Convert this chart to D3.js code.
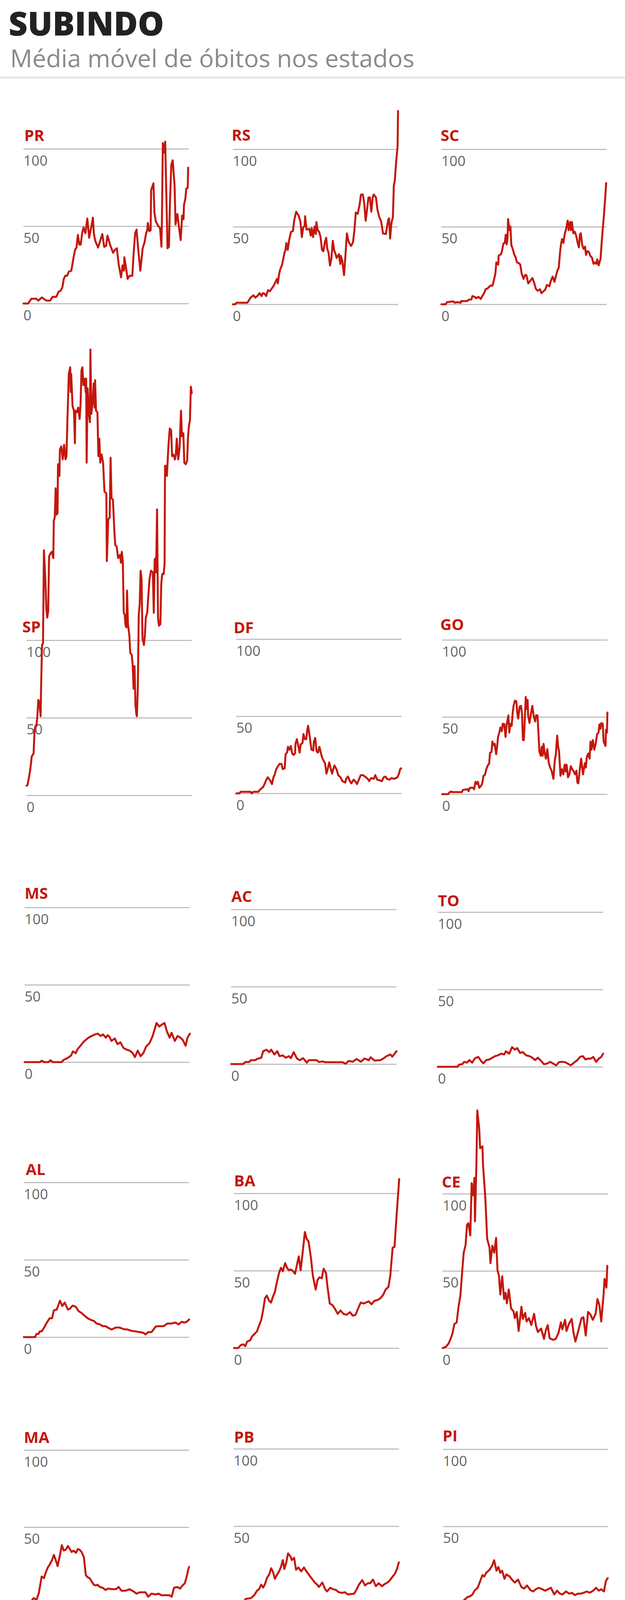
<!DOCTYPE html>
<html>
<head>
<meta charset="utf-8">
<script src="https://cdn.jsdelivr.net/npm/d3@7"></script>
<style>
  body { margin: 0; background: #fff; }
  svg { display: block; }
</style>
</head>
<body>
<svg id="chart"></svg>
<script>
// moving average of deaths per state, [day since start, value]
const PR = [[0,0],[10,0],[13,1.4],[17,3.1],[27,3.1],[32,1.9],[36,3.1],[39,3.9],[44,2.9],[49,1.9],[57,1.9],[62,4.3],[70,4.3],[75,7.7],[79,8.2],[83,10.6],[86,15.9],[89,17.9],[93,17.9],[97,20.7],[102,21.2],[106,28.5],[110,34.7],[113,36.2],[116,44.4],[119,38.1],[122,38.1],[125,45.4],[128,49.2],[132,45.4],[136,55],[140,42.5],[145,50.2],[148,55.5],[150,45.4],[153,40.5],[159,36.2],[162,39.1],[168,44.9],[172,36.7],[176,37.2],[179,43.9],[185,37.6],[191,32.8],[195,34.7],[199,35.7],[203,25.1],[208,16.9],[211,24.6],[214,21.2],[215,29.9],[218,24.1],[222,15.9],[226,17.9],[232,17.9],[235,33.8],[238,45.4],[241,47.8],[244,36.7],[249,21.2],[254,35.7],[258,39.6],[261,44.9],[264,47.8],[265,52.1],[268,46.8],[271,47.3],[272,73.3],[277,77.7],[279,58.9],[282,53.1],[287,50.2],[291,48.7],[294,36.7],[295,53.1],[297,103.7],[300,97.5],[302,104.7],[304,76.2],[307,35.7],[310,36.7],[312,63.7],[315,89.7],[318,92.6],[322,76.2],[324,51.1],[328,57.9],[331,50.2],[335,41],[338,56.9],[341,54.5],[342,63.7],[345,68],[347,74.3],[350,74.8],[351,87.8]];
const RS = [[0,0],[5,0],[8,1],[31,1],[35,2.9],[38,4.3],[44,5.8],[48,4.3],[52,5.3],[57,7.2],[61,5.3],[64,7.2],[68,6.7],[71,5.3],[75,9.1],[79,8.4],[84,10.6],[88,12.5],[94,16.4],[96,13.5],[98,18.3],[101,22.6],[105,25.5],[110,33.2],[112,34.7],[114,39.5],[117,35.1],[120,41.4],[124,46.7],[128,47.2],[131,54.4],[135,59.7],[140,57.3],[144,53.4],[147,43.3],[150,49.6],[153,50.6],[154,56.8],[157,48.2],[163,48.6],[166,44.3],[168,49.1],[171,43.3],[174,50.1],[177,45.3],[178,53],[181,47.7],[184,46.7],[187,43.3],[190,35.1],[193,34.2],[196,40],[199,42.9],[201,36.1],[204,33.2],[207,25],[210,29.4],[213,40.9],[216,34.7],[219,32.3],[221,29.9],[226,32.3],[229,26],[230,31.3],[233,28.4],[237,18.8],[240,31.8],[243,45.7],[247,40],[252,37.6],[256,40],[259,47.7],[262,59.2],[266,58.3],[270,64],[273,70.8],[277,70.8],[280,65],[283,53.9],[286,61.2],[289,68.9],[292,68.9],[295,59.7],[298,68.9],[300,70.8],[305,68.9],[308,61.2],[312,56.3],[316,53.4],[320,45.7],[326,45.3],[331,54.4],[333,55.4],[335,42.4],[338,52.5],[341,56.3],[343,76.6],[345,79.4],[348,92],[351,101.6],[352,124.7]];
const SC = [[0,0],[9,0],[12,1.4],[26,1.9],[28,1],[34,1.4],[41,1],[42,2.1],[55,2.1],[58,2.9],[64,3.2],[66,5.3],[71,4.8],[74,3.9],[79,4.8],[84,3.4],[86,4.8],[91,7.2],[94,9.7],[98,10.1],[101,11.1],[105,12.1],[109,12.1],[112,15.9],[115,19.8],[117,27],[121,25.6],[122,31.4],[127,32.3],[129,34.3],[132,39.1],[135,39.6],[137,44.9],[139,38.6],[141,42.9],[142,55],[145,47.8],[147,50.2],[149,38.1],[152,35.7],[155,32.3],[158,30.4],[161,27],[165,26.5],[168,25.6],[171,19.8],[175,16.4],[178,18.8],[181,18.8],[185,13.5],[190,15.4],[194,16.9],[198,13.5],[201,10.1],[205,8.7],[210,9.7],[213,7.2],[217,8.2],[221,9.4],[225,12.5],[230,11.6],[233,15],[237,17.9],[241,14.5],[244,18.3],[247,21.7],[250,23.6],[253,34.3],[255,39.1],[257,42],[260,39.6],[263,45.8],[265,47.8],[269,54],[271,47.8],[274,53.1],[276,47.8],[278,53.1],[281,45.8],[284,46.8],[287,44.4],[290,40],[293,36.7],[295,44.9],[297,45.8],[300,38.1],[303,35.7],[306,37.2],[308,31.8],[311,34.3],[314,33.8],[317,31.4],[321,29.9],[324,26.1],[327,27],[330,26.1],[332,29],[335,25.1],[339,29.4],[341,38.1],[344,49.7],[346,56.5],[349,69],[351,78.2]];
const SP = [[0,6.2],[2,6.6],[5,11.5],[8,16.7],[11,25],[15,27],[17,41.7],[19,44.8],[21,44.8],[23,51],[25,61.5],[27,60.4],[30,51],[31,70.8],[33,96.9],[35,97.9],[37,158],[40,139.6],[42,120.8],[44,114.6],[46,118.7],[48,154],[51,156],[54,157],[57,153],[58,177],[60,179],[62,198],[64,181],[66,182],[67,213.5],[70,206],[71,223],[74,225],[77,216.6],[80,226],[83,216.6],[85,218.7],[87,241.6],[90,271.8],[93,276],[94,260],[95,271.8],[98,251],[101,248],[103,227],[104,248],[107,247],[110,250],[113,242.7],[115,252],[117,274],[119,276],[121,264.5],[124,268.7],[126,260],[127,268.7],[128,214.5],[130,262.5],[133,246],[135,240.6],[136,287.5],[138,246],[141,254],[143,265.6],[145,250],[146,267.7],[148,248],[151,247],[153,218.7],[155,230],[157,214.5],[160,219.8],[163,214.5],[166,195.8],[170,194.8],[171,151],[174,178],[177,179],[179,217.7],[181,191.6],[184,190.6],[187,170.8],[189,161.4],[192,160.4],[195,153],[199,155],[201,150],[203,157],[205,151],[207,117.7],[209,116.7],[211,109.4],[213,108.3],[214,132],[216,110.4],[219,103],[221,91.7],[224,90.6],[226,84.4],[228,68.7],[230,83.3],[232,58.3],[234,52],[235,51],[237,68.7],[239,116.7],[241,123],[243,144.8],[245,139.6],[247,101],[250,96.9],[252,103],[254,114.6],[257,117.7],[259,127],[262,139.6],[265,144.8],[269,143.8],[271,117.7],[273,152],[275,153],[276,143.8],[278,184.4],[280,114.6],[282,109.4],[285,110.4],[287,136.4],[289,142.7],[292,142.7],[294,149],[295,212.5],[297,212.5],[299,206],[302,224],[305,236.5],[308,235.4],[310,218.7],[313,219.8],[316,216.6],[318,219.8],[320,230],[323,216.6],[326,224],[329,248],[331,231.5],[334,233.5],[336,214.5],[339,213.5],[342,215.6],[344,231.5],[346,238.5],[348,241.6],[350,263.5],[352,259.4]];
const DF = [[0,0],[7,0],[9,1],[30,1],[33,0],[36,1],[47,1],[49,1.9],[53,3.1],[57,4.1],[60,6],[64,8.9],[67,10.4],[72,8.4],[76,6],[79,10.4],[82,12.3],[85,15.7],[88,17.2],[92,19.1],[96,19.1],[99,15.7],[103,16.2],[105,25.4],[108,26.4],[110,30.2],[113,28.3],[116,30.7],[119,25.9],[122,24.9],[125,25.9],[126,32.2],[129,35.1],[132,30.7],[135,26.4],[137,31.7],[141,32.7],[143,38.5],[146,35.1],[149,35.1],[151,40.9],[153,43.8],[156,37.5],[160,28.3],[164,27.8],[165,33.1],[168,36],[171,27.3],[174,26.4],[177,30.2],[180,26.4],[182,23.9],[186,21],[189,19.6],[192,12.8],[195,16.2],[198,20.1],[201,16.2],[204,12.8],[207,16.2],[209,18.1],[214,15.2],[217,11.8],[222,10.4],[226,7.9],[232,7],[234,9.4],[238,10.9],[242,7.9],[245,6.5],[250,8.9],[254,7.5],[257,6],[261,8.9],[265,11.8],[270,11.8],[274,10.9],[280,9.4],[283,7.9],[287,9.9],[293,9.4],[296,11.8],[300,8.9],[306,8.4],[310,7.9],[314,10.4],[318,10.9],[321,9.4],[326,8.9],[331,9.9],[336,9.4],[340,9.9],[343,10.4],[346,12.3],[349,15.7],[351,16.2]];
const GO = [[0,0],[13,0],[15,1],[19,1.7],[22,1.3],[42,1.3],[44,2.7],[54,3.2],[56,1.9],[59,4.1],[66,4.1],[68,3.2],[71,8],[74,6.6],[76,8],[79,4.1],[82,5.1],[85,6.6],[88,11.9],[91,12.4],[94,16.2],[97,18.6],[100,19.6],[102,26.8],[105,27.3],[107,34.1],[109,31.7],[112,32.6],[115,25.9],[117,30.7],[119,37],[122,40.3],[124,43.2],[127,40.8],[129,45.6],[132,45.6],[135,37],[137,44.7],[139,47.6],[141,51],[143,39.9],[145,45.6],[148,44.2],[150,51.9],[152,57.2],[155,60.6],[158,60.1],[160,52.4],[162,49],[165,56.7],[168,57.2],[170,52.4],[172,35],[174,35],[176,48.5],[178,63],[180,55.3],[182,61.1],[183,51],[186,46.1],[189,51.9],[192,57.2],[195,50.5],[198,47.1],[200,51],[203,51],[205,39.9],[207,27.8],[210,24.9],[212,30.7],[214,24.9],[216,32.6],[218,27.3],[221,23],[224,29.2],[227,20.1],[230,17.2],[233,15.2],[237,9.9],[240,22.5],[242,25.4],[245,37.9],[247,30.7],[249,27.8],[252,11.9],[255,16.2],[258,12.8],[261,19.1],[263,14.8],[265,19.1],[268,10.9],[271,12.8],[274,18.1],[277,16.2],[280,14.8],[283,12.8],[286,15.2],[288,7.5],[290,7],[293,15.7],[296,23],[300,12.8],[304,20.1],[306,17.2],[308,23.9],[311,26.3],[314,23],[316,34.1],[318,28.8],[321,35],[324,28.8],[327,32.6],[330,38.9],[333,39.9],[335,45.2],[337,42.3],[339,46.1],[342,45.6],[344,34.1],[348,31.2],[349,41.8],[351,39.9],[352,52.9]];
const MS = [[0,0],[32,0],[37,0.9],[41,0],[51,0],[55,1.2],[60,0],[79,0],[83,1.4],[92,2.7],[99,4.3],[103,6.9],[109,5.8],[113,8.5],[119,10.6],[126,13.2],[132,14.8],[136,15.8],[143,16.9],[150,17.9],[156,18.4],[162,16.9],[167,17.9],[173,15.8],[177,17.4],[181,16.3],[185,13.7],[192,15.3],[198,11.6],[204,12.8],[211,9],[218,8],[224,7.4],[230,5.9],[235,3.2],[241,7.4],[247,3.8],[253,5.9],[259,10.1],[266,12.2],[272,16.3],[277,21.1],[281,25.3],[287,23],[292,24.2],[298,25.3],[303,20],[309,15.8],[313,19],[320,13.7],[326,16.9],[332,15.8],[337,14.3],[343,10.6],[347,15.8],[352,18.4]];
const AC = [[0,0],[25,0],[30,1.3],[38,1.3],[42,2.5],[51,2.5],[55,3.3],[64,4.1],[68,8.3],[75,9.3],[81,7.7],[85,9.3],[92,6.2],[98,8.3],[103,5.1],[110,5.6],[116,4.1],[123,5.1],[127,3.8],[133,7.7],[140,3.6],[146,2.5],[153,3.8],[161,0.9],[165,2.5],[182,2.5],[187,1.3],[195,1.7],[199,1.2],[237,1.2],[244,0.2],[250,2],[259,1.5],[267,3.3],[276,1.5],[284,3.6],[293,2.5],[297,4.4],[305,2.3],[318,2.5],[324,3.6],[331,5.1],[339,6.2],[343,4.8],[348,6.7],[352,8.3]];
const TO = [[0,0],[42,0],[45,1.4],[52,1.7],[56,3.2],[62,2.7],[67,4.3],[73,2.7],[79,5.5],[86,6.4],[92,3.8],[97,2.2],[103,4.3],[110,4.8],[116,5.9],[122,6.9],[128,7.4],[135,8.5],[141,8],[145,10],[152,8.5],[158,12.7],[164,11.1],[169,12.1],[175,9],[181,9.5],[188,7.4],[195,6.9],[201,5.9],[207,4.3],[213,5.9],[220,3.8],[226,1.7],[232,2],[239,3.2],[245,2.2],[252,0.9],[258,3],[264,3.2],[271,3],[277,2],[283,0.9],[290,2.7],[297,4.3],[303,6.4],[309,6.9],[314,4.8],[320,5.3],[326,5.3],[331,6.4],[337,3.2],[343,5.3],[348,6.4],[352,8.5]];
const AL = [[0,0],[24,0],[27,2],[31,2],[34,3.7],[38,3.7],[43,6],[49,9.4],[55,12.2],[60,12.2],[64,17.3],[70,17.8],[77,23.5],[82,20.1],[87,22.4],[94,17.8],[98,18.3],[104,20.4],[111,19.5],[117,16.7],[123,15.6],[129,13.9],[136,12.2],[143,11.1],[149,10.5],[155,8.8],[162,8.2],[168,7.1],[174,7.1],[180,6],[187,4.9],[196,6.2],[204,6.2],[213,5.1],[221,4.9],[230,4],[238,3.7],[247,3.2],[255,2.8],[259,1.7],[265,3.2],[272,3.2],[281,6.9],[289,7.1],[298,7.1],[306,8.8],[315,8.8],[323,9.4],[330,8.2],[336,9.9],[342,9.4],[347,9.9],[352,11.4]];
const BA = [[0,0],[9,0],[14,1.8],[20,2.4],[24,1.2],[28,4.1],[35,5.2],[38,7.4],[45,9.5],[49,10.8],[53,14.2],[58,18.1],[62,24.3],[66,32.2],[70,33.9],[75,30.5],[79,29.4],[83,33.3],[87,36.1],[92,43.5],[96,48.5],[100,51.9],[104,49.7],[109,54.9],[113,51.9],[117,50.2],[121,50.8],[126,49.7],[130,48],[134,53.6],[138,59.2],[142,50.2],[147,63.7],[151,75],[155,70.5],[159,68.8],[164,58.1],[168,46.8],[174,37.8],[178,44],[182,45.7],[187,45.1],[191,51.3],[196,48.5],[199,40.1],[204,28.8],[210,27.7],[215,25.4],[221,22.1],[227,24.3],[233,22.1],[240,21.5],[247,23.2],[253,20.9],[259,21.5],[265,26],[270,29.4],[276,28.8],[281,29.4],[287,30.2],[293,28.3],[299,30.5],[306,31.1],[312,32.2],[318,34.5],[323,37.8],[329,39.5],[333,46.8],[338,64.9],[342,65.4],[346,84],[352,109.3]];
const CE = [[0,0],[7,0.8],[13,3],[17,5.9],[21,9.3],[25,15.5],[30,16.6],[34,26.8],[38,34.1],[42,50.5],[45,61.8],[49,66.8],[52,79.8],[55,80.9],[59,73],[62,106.9],[65,99],[68,110.3],[69,82.1],[72,118.2],[74,154],[78,142.4],[80,129.5],[85,130.7],[86,119.3],[91,97.7],[95,70.8],[100,65.1],[102,55],[106,66.3],[110,61.8],[114,71.4],[117,50.5],[120,47.1],[123,34.7],[127,46.5],[131,31.8],[134,35.8],[137,29],[141,38],[146,25.6],[151,23.9],[154,19.4],[158,23.4],[162,11],[168,26.8],[171,18.9],[176,22.8],[179,17.2],[184,19.4],[189,14.9],[195,22.2],[199,14.3],[203,10.4],[210,12.6],[216,5.9],[220,11.5],[224,14.9],[228,6.4],[235,5.3],[241,5.9],[247,9.8],[252,16.6],[255,12.1],[261,18.3],[264,11],[269,15.5],[275,18.9],[279,9.8],[283,4.2],[289,11],[296,19.4],[300,20],[305,8.1],[310,23.4],[315,21.7],[320,18.3],[326,22.2],[330,31.8],[334,27.9],[338,17.2],[343,34.7],[345,44.8],[349,39.2],[351,53.3]];
const MA = [[0,0],[13,0],[17,2.5],[21,4],[27,3],[32,7.3],[38,18],[43,17],[47,20.9],[51,23.8],[55,25.7],[60,28.6],[64,32],[68,28.6],[72,24.7],[77,32],[81,38.3],[85,34.9],[89,35.3],[94,37.8],[98,35.8],[102,33.9],[106,34.8],[111,33.4],[115,35.8],[119,35.3],[123,33.9],[128,30.5],[132,18.9],[136,17.5],[140,17],[145,14.6],[149,12.7],[153,12.2],[157,12.7],[162,11.2],[168,10.7],[174,9.3],[180,10.2],[187,9.8],[196,9.8],[202,11.2],[208,8.8],[217,8.8],[225,9.8],[234,8.3],[240,6.9],[247,7.8],[253,7.8],[259,7.8],[265,4.9],[272,6.9],[281,6.4],[287,6.9],[293,5.9],[302,5.9],[310,5.9],[315,4.9],[320,10.7],[327,11.2],[333,10.2],[338,12.2],[343,13.6],[347,18],[350,22.3],[352,24.2]];
const PB = [[0,0],[12,0],[16,1.5],[22,1.5],[26,3],[37,3.5],[44,5.4],[50,8.3],[54,9.2],[59,12.2],[63,10.3],[67,12.6],[71,16.5],[76,18.9],[80,22.8],[84,20.4],[88,16],[93,18.9],[97,20.8],[101,23.7],[105,28.1],[108,22.3],[112,26.2],[116,32.4],[121,30.5],[124,28.1],[129,29.5],[133,21.8],[138,23.3],[144,20.8],[150,23.3],[155,20.8],[161,18.4],[167,16],[173,13.6],[178,12.2],[182,10.7],[189,13.6],[195,9.3],[199,7.8],[206,10.2],[212,9.2],[218,8.8],[224,7.3],[231,6.9],[237,7.3],[243,5.9],[250,6.1],[257,6.4],[263,9.7],[267,12.2],[274,15.1],[280,11.7],[286,13.1],[291,13.1],[297,15.5],[303,11.2],[309,13.1],[316,11.2],[322,12.6],[328,13.6],[333,15.1],[339,17.5],[343,18.9],[348,22.3],[352,26.6]];
const PI = [[0,0],[6,1.5],[11,0],[20,0],[25,1.3],[42,1.3],[46,2.5],[52,4.1],[59,4.9],[63,5.9],[67,8.3],[74,10.2],[80,15.1],[84,18.4],[88,17.5],[92,19.9],[99,21.8],[105,24.7],[109,28.1],[114,21.3],[118,23.7],[122,19.9],[126,21.3],[131,16],[135,18.9],[142,17.5],[148,15.1],[153,13.6],[160,15.5],[167,10.7],[173,9.7],[179,11.7],[186,8.8],[192,7.8],[198,9.3],[204,10.2],[211,9.3],[218,8.3],[224,9.3],[230,10.2],[237,5.9],[243,8.3],[249,6.4],[255,5.9],[262,7.8],[269,6.4],[275,6.9],[281,5.4],[287,6.4],[294,6.4],[300,7],[306,7.8],[313,7],[320,8.3],[326,10.2],[332,8.3],[337,9.3],[343,7.8],[347,14.6],[351,16.5]];
const RN = [[0,0],[6,0],[11,1.1],[20,1.1],[23,2],[28,1.1],[32,2.4],[38,3.3],[45,4.2],[51,3.3],[55,7.4],[60,10.6],[64,6],[68,9.2],[72,17.3],[77,19.1],[79,15.1],[83,17.8],[85,15.5],[89,23.7],[94,29.5],[98,38.1],[102,42.2],[107,42.6],[109,36.3],[113,21],[119,27.3],[124,23.7],[128,13.3],[132,12.8],[135,29.1],[139,28.2],[143,11],[147,13.3],[152,16],[156,12.8],[162,11.9],[168,5.6],[173,2.9],[179,5.1],[185,3.8],[192,4.7],[199,2.9],[204,2],[210,19.1],[215,18.7],[219,1.1],[226,2.9],[233,3.3],[239,6],[243,3.8],[249,2],[256,4.7],[262,7.4],[267,10.1],[273,10.6],[279,11.5],[285,10.6],[290,12.8],[296,11.5],[301,12.4],[307,9.7],[313,9.7],[320,6],[326,8.3],[332,10.1],[337,7],[341,10.6],[345,16.4],[352,17.3]];
const SE = [[0,0],[13,0],[15,1.1],[21,0],[30,0],[34,1.3],[41,1.1],[44,2.4],[51,3.3],[58,4.2],[64,5.6],[68,9.2],[72,7],[76,10.1],[81,14.6],[85,19.1],[89,18.2],[93,21.9],[98,24.1],[102,25.9],[106,24.1],[110,27.3],[114,23.2],[119,25],[123,28.2],[127,25.5],[131,21],[136,18.2],[142,19.1],[148,15.5],[153,11],[157,9.2],[161,8.3],[165,5.6],[170,6.5],[174,8.3],[178,5.1],[182,3.8],[187,5.1],[195,4.7],[204,5.1],[208,6],[216,5.1],[220,6],[227,5.6],[233,4.2],[237,2.9],[242,2],[248,2.9],[253,3.8],[259,3.8],[265,4.5],[271,5.1],[276,6.5],[282,7],[287,7.9],[293,9.2],[297,10.1],[301,11.5],[305,11.9],[310,11],[314,9.2],[318,7.4],[324,7],[329,6.5],[335,6],[341,4.7],[346,7.4],[352,8.3]];

const states = ["PR","RS","SC","SP","DF","GO","MS","AC","TO","AL","BA","CE","MA","PB","PI","RN","SE"];
const seriesByState = {PR, RS, SC, SP, DF, GO, MS, AC, TO, AL, BA, CE, MA, PB, PI, RN, SE};
const tickValues = [0, 50, 100];
const lastDay = 352;

// panel placement: left x, y of the 100 line, y of the 0 line, label x, label baseline
const layout = [
  [60, 381, 777, 62, 361], [596, 382, 779, 593, 360], [1130, 382, 779, 1128, 361],
  [68, 1639, 2036, 57, 1619], [605, 1636, 2031, 598, 1621], [1132, 1638, 2033, 1127, 1613],
  [63, 2323, 2719, 63, 2301], [592, 2328, 2724, 592, 2309], [1121, 2335, 2731, 1121, 2320],
  [61, 3027, 3423, 66, 3008], [599, 3055, 3451, 599, 3037], [1133, 3056, 3451, 1131, 3040],
  [61, 3712, 4107, 61, 3694], [598, 3709, 4105, 599, 3693], [1134, 3710, 4105, 1133, 3690],
  [66, 4284, 4679, 61, 4264], [592, 4284, 4679, 592, 4269]
];
const panelW = 423;

const width = 1600;
const height = 5077;
const red = "#c4170c";
const font = "'Open Sans', 'Noto Sans', sans-serif";

const svg = d3.select("#chart")
  .attr("width", width)
  .attr("height", height)
  .style("font-family", font);

// header
svg.append("text")
  .attr("x", 22).attr("y", 91)
  .attr("textLength", 398).attr("lengthAdjust", "spacingAndGlyphs")
  .style("font-size", "85px").style("font-weight", 800)
  .attr("fill", "#222")
  .text("SUBINDO");

svg.append("text")
  .attr("x", 26).attr("y", 172)
  .attr("textLength", 1035).attr("lengthAdjust", "spacingAndGlyphs")
  .style("font-size", "62px")
  .attr("fill", "#8a8a8a")
  .text("Média móvel de óbitos nos estados");

svg.append("rect")
  .attr("x", 0).attr("y", 196).attr("width", width).attr("height", 5)
  .attr("fill", "#e6e6e6");

// one small chart per state
states.forEach((st, i) => {
  const [px, pTop, pZero, lx, ly] = layout[i];
  const data = seriesByState[st];

  const x = d3.scaleLinear().domain([0, lastDay]).range([px, px + panelW]);
  const y = d3.scaleLinear().domain([0, 100]).range([pZero, pTop]);

  const g = svg.append("g").attr("class", "panel");

  // grid lines with the value below each line
  g.append("g")
    .attr("transform", `translate(${px},0)`)
    .call(d3.axisRight(y).tickValues(tickValues).tickSize(panelW).tickFormat(d3.format("d")))
    .call(a => a.select(".domain").remove())
    .call(a => a.selectAll(".tick line").attr("stroke", "#b4b4b4").attr("stroke-width", 2.5))
    .call(a => a.selectAll(".tick text")
      .attr("x", 0).attr("y", 42).attr("dy", null)
      .attr("text-anchor", "start")
      .attr("fill", "#666")
      .style("font-family", font)
      .style("font-size", "36px"));

  g.append("path")
    .datum(data)
    .attr("fill", "none")
    .attr("stroke", red)
    .attr("stroke-width", 5)
    .attr("stroke-linejoin", "round")
    .attr("stroke-linecap", "round")
    .attr("d", d3.line().x(d => x(d[0])).y(d => y(d[1])));

  g.append("text")
    .attr("x", lx).attr("y", ly)
    .attr("fill", red)
    .style("font-size", "40px").style("font-weight", 700)
    .text(st);
});

// footer
const fonte = svg.append("text")
  .attr("x", 1574).attr("y", 4871)
  .attr("text-anchor", "end")
  .attr("fill", "#666")
  .style("font-size", "39px");
fonte.append("tspan").style("font-weight", 700).attr("fill", "#555").text("Fonte: ");
fonte.append("tspan").text("Consórcio de veículos de imprensa a partir");

svg.append("text")
  .attr("x", 1574).attr("y", 4918)
  .attr("text-anchor", "end")
  .attr("fill", "#666")
  .style("font-size", "39px")
  .text("de dados da secretarias estaduais de saúde");

svg.append("rect")
  .attr("x", 0).attr("y", 4947).attr("width", width).attr("height", 5)
  .attr("fill", "#e6e6e6");

svg.append("text")
  .attr("x", 1574).attr("y", 5002)
  .attr("text-anchor", "end")
  .attr("textLength", 714).attr("lengthAdjust", "spacingAndGlyphs")
  .attr("fill", "#666")
  .style("font-size", "38px").style("font-weight", 600)
  .text("Infográfico atualizado em: 04/03/2021");

// G1 logo
svg.append("text")
  .attr("x", 24).attr("y", 5036)
  .attr("textLength", 94).attr("lengthAdjust", "spacingAndGlyphs")
  .attr("fill", red)
  .style("font-size", "80px").style("font-weight", 800)
  .text("G1");
</script>
</body>
</html>
